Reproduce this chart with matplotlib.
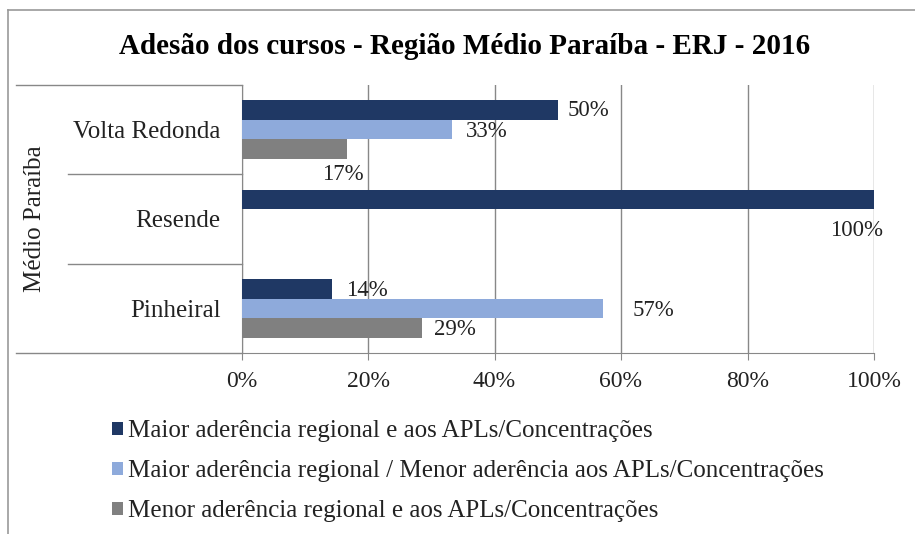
import numpy as np
import matplotlib.pyplot as plt
from matplotlib.lines import Line2D
import matplotlib.transforms as mtransforms

plt.rcParams['font.family'] = ['Liberation Serif', 'DejaVu Serif']

# Data
cidades = ['Volta Redonda', 'Resende', 'Pinheiral']
series = ['Maior aderência regional e aos APLs/Concentrações',
          'Maior aderência regional / Menor aderência aos APLs/Concentrações',
          'Menor aderência regional e aos APLs/Concentrações']
maior = [0.50, 1.00, 0.143]
maior_menor = [0.333, 0.0, 0.571]
menor = [0.167, 0.0, 0.286]
cores = ['#1f3864', '#8eaadb', '#808080']

W, H = 915, 534
fig = plt.figure(figsize=(W / 100, H / 100), dpi=100)
ax = fig.add_axes([241.5 / W, 1 - 353 / H, (874 - 241.5) / W, (353 - 85) / H])

y = np.arange(len(cidades))
h = 0.22
valores = [maior, maior_menor, menor]
barras = []
for i, (vals, cor) in enumerate(zip(valores, cores)):
    b = ax.barh(y + (i - 1) * h, vals, height=h, color=cor, label=series[i], zorder=3)
    barras.append(b)

# data labels (offsets in pixels -> points), zero values hidden
offsets = {
    (0, 0): (10, 0, 'left'), (1, 0): (14, -2, 'left'), (2, 0): (-4, -25, 'center'),
    (0, 1): (-17, -31, 'center'),
    (0, 2): (14, -2, 'left'), (1, 2): (30, -2, 'left'), (2, 2): (12, -2, 'left'),
}
for i, vals in enumerate(valores):
    for j, v in enumerate(vals):
        if v == 0:
            continue
        dx, dy, ha = offsets[(i, j)]
        ax.annotate(f'{v:.0%}', xy=(v, y[j] + (i - 1) * h), xytext=(dx * 0.72, dy * 0.72),
                    textcoords='offset points', ha=ha, va='center', fontsize=16.5,
                    color='#222222', zorder=4)

ax.set_xlim(0, 1)
ax.set_ylim(2.5, -0.5)
ax.set_xticks(np.linspace(0, 1, 6))
ax.set_xticklabels([f'{t:.0%}' for t in np.linspace(0, 1, 6)], fontsize=17)
ax.set_yticks(y)
ax.set_yticklabels(cidades, fontsize=18)
ax.tick_params(axis='y', length=0, pad=15, labelcolor='#222222')
ax.tick_params(axis='x', length=5, color='#888888', pad=8, labelcolor='#222222')
ax.grid(axis='x', color='#888888', linewidth=1, zorder=0)
for s in ['top', 'right']:
    ax.spines[s].set_visible(False)
for s in ['left', 'bottom']:
    ax.spines[s].set_color('#888888')

# multi-level category table lines
trans = mtransforms.blended_transform_factory(ax.transAxes, ax.transData)
for yy in [0.5, 1.5]:
    ax.add_line(Line2D([-0.274, 0], [yy, yy], transform=trans, color='#888888', lw=1, clip_on=False))
for yy in [-0.5, 2.5]:
    ax.add_line(Line2D([-0.3565, 0], [yy, yy], transform=trans, color='#888888', lw=1, clip_on=False))
ax.text(-0.3265, 1, 'Médio Paraíba', transform=trans, rotation=90, ha='center', va='center',
        fontsize=18, color='#222222')

# title
fig.text(465 / W, 1 - 47 / H, 'Adesão dos cursos - Região Médio Paraíba - ERJ - 2016',
         ha='center', va='center', fontsize=21, fontweight='bold')

# legend
leg = fig.legend(handles=barras, labels=series, loc='upper left',
                 bbox_to_anchor=(112 / W, 1 - 420 / H), frameon=False, fontsize=18,
                 handlelength=0.42, handleheight=0.42, handletextpad=0.22, labelspacing=0.72,
                 borderaxespad=0, borderpad=0)
for t in leg.get_texts():
    t.set_color('#222222')

# outer border
fig.add_artist(Line2D([8 / W, 8 / W], [0, 1 - 10 / H], color='#999999', lw=1.2))
fig.add_artist(Line2D([8 / W, 1], [1 - 10 / H, 1 - 10 / H], color='#999999', lw=1.2))

fig.savefig('out.png', dpi=100)
